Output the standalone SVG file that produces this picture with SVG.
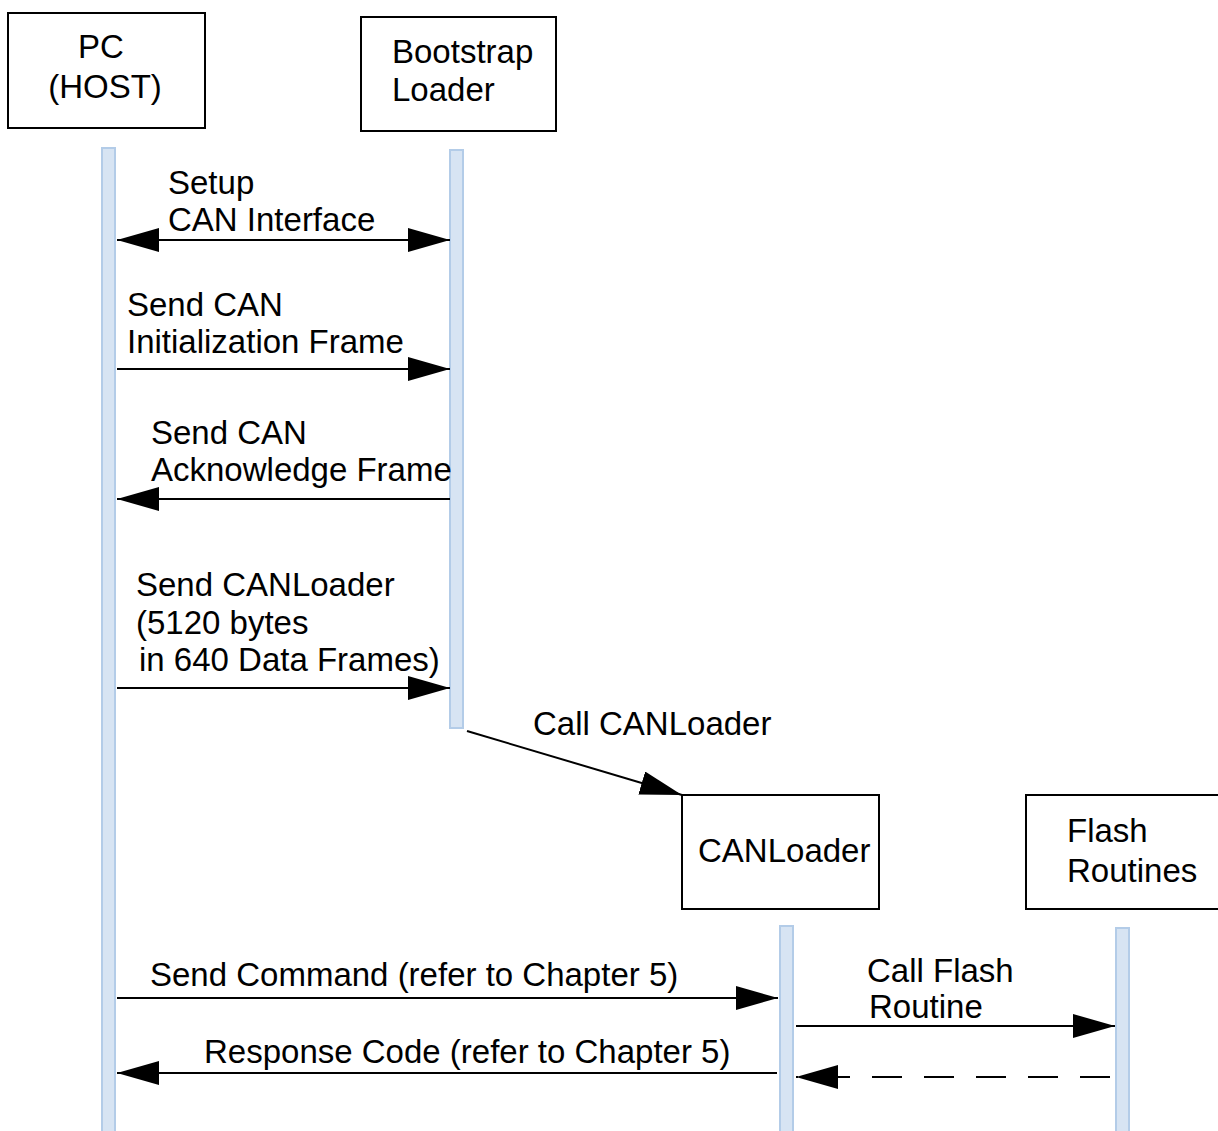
<svg xmlns="http://www.w3.org/2000/svg" width="1218" height="1131" viewBox="0 0 1218 1131">
  <style>
    .box { fill: #ffffff; stroke: #000000; stroke-width: 2; }
    .life { fill: #d7e4f3; stroke: #b3cce8; stroke-width: 2; }
    .msg { fill: none; stroke: #000000; stroke-width: 2; }
    .dash { stroke-dasharray: 30 22; }
    text { font-family: "Liberation Sans", Arial, sans-serif; font-size: 33px; fill: #000000; }
  </style>
  <defs>
    <marker id="head" markerUnits="userSpaceOnUse" viewBox="0 0 42 24" refX="42" refY="12" markerWidth="42" markerHeight="24" orient="auto-start-reverse">
      <path d="M0,0 L42,12 L0,24 Z" fill="#000000"/>
    </marker>
  </defs>

  <!-- participants -->
  <g id="pc-host">
    <rect class="box" x="8" y="13" width="197" height="115"/>
    <text x="101" y="58" text-anchor="middle">PC</text>
    <text x="105" y="98" text-anchor="middle">(HOST)</text>
  </g>
  <g id="bootstrap-loader">
    <rect class="box" x="361" y="17" width="195" height="114"/>
    <text x="392" y="63">Bootstrap</text>
    <text x="392" y="101">Loader</text>
  </g>
  <g id="canloader">
    <rect class="box" x="682" y="795" width="197" height="114"/>
    <text x="698" y="862">CANLoader</text>
  </g>
  <g id="flash-routines">
    <rect class="box" x="1026" y="795" width="200" height="114"/>
    <text x="1067" y="842">Flash</text>
    <text x="1067" y="882">Routines</text>
  </g>

  <!-- lifelines -->
  <g id="lifelines">
    <rect class="life" x="102" y="148" width="13" height="990"/>
    <rect class="life" x="450" y="150" width="13" height="578"/>
    <rect class="life" x="780" y="926" width="13" height="210"/>
    <rect class="life" x="1116" y="928" width="13" height="210"/>
  </g>

  <!-- messages -->
  <g id="connectors">
    <line class="msg" x1="117" y1="240" x2="450" y2="240" marker-start="url(#head)" marker-end="url(#head)"/>
    <line class="msg" x1="117" y1="369" x2="450" y2="369" marker-end="url(#head)"/>
    <line class="msg" x1="450" y1="499" x2="117" y2="499" marker-end="url(#head)"/>
    <line class="msg" x1="117" y1="688" x2="450" y2="688" marker-end="url(#head)"/>
    <line class="msg" x1="467" y1="731" x2="682" y2="795" marker-end="url(#head)"/>
    <line class="msg" x1="117" y1="998" x2="778" y2="998" marker-end="url(#head)"/>
    <line class="msg" x1="796" y1="1026" x2="1115" y2="1026" marker-end="url(#head)"/>
    <line class="msg" x1="777" y1="1073" x2="117" y2="1073" marker-end="url(#head)"/>
    <line class="msg dash" x1="1110" y1="1077" x2="796" y2="1077" marker-end="url(#head)"/>
  </g>

  <!-- message labels -->
  <g id="labels">
    <text x="168" y="194">Setup</text>
    <text x="168" y="231">CAN Interface</text>
    <text x="127" y="316">Send CAN</text>
    <text x="127" y="353">Initialization Frame</text>
    <text x="151" y="444">Send CAN</text>
    <text x="151" y="481">Acknowledge Frame</text>
    <text x="136" y="596">Send CANLoader</text>
    <text x="136" y="634">(5120 bytes</text>
    <text x="139" y="671">in 640 Data Frames)</text>
    <text x="533" y="735">Call CANLoader</text>
    <text x="150" y="986">Send Command (refer to Chapter 5)</text>
    <text x="867" y="982">Call Flash</text>
    <text x="869" y="1018">Routine</text>
    <text x="204" y="1063">Response Code (refer to Chapter 5)</text>
  </g>
</svg>
